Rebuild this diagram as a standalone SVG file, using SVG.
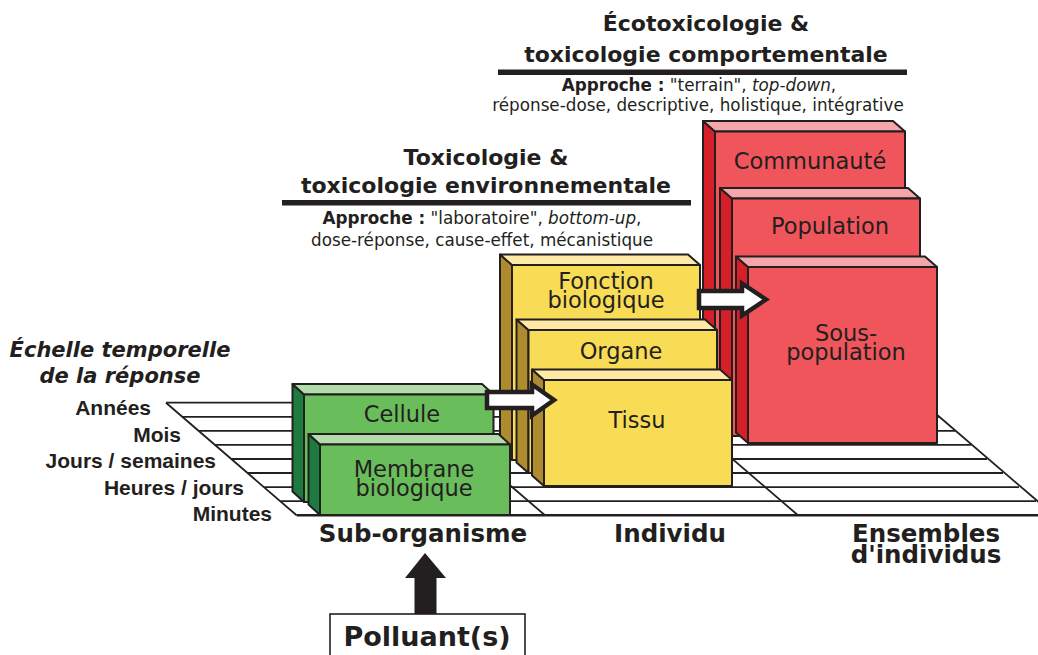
<svg xmlns="http://www.w3.org/2000/svg" width="1038" height="655" viewBox="0 0 1038 655">
<style>
.gl{stroke:#231f20;stroke-width:1.8;fill:none}
.ol{stroke:#231f20;stroke-width:2;stroke-linejoin:round}
.gf{fill:#6abd5b}.gs{fill:#1e7b3f}.gt{fill:#b3dcab}
.yf{fill:#f9dc55}.ys{fill:#ad8b2e}.yt{fill:#feeaa4}
.rf{fill:#ef555b}.rs{fill:#d5202a}.rt{fill:#f5a6aa}
.lbl{font-family:"DejaVu Sans",sans-serif;font-size:22.5px;fill:#231f20;text-anchor:middle}
.hd{font-family:"DejaVu Sans",sans-serif;font-weight:bold;font-size:22px;fill:#231f20;text-anchor:middle}
.ap{font-family:"DejaVu Sans",sans-serif;font-size:16.8px;fill:#231f20;text-anchor:middle}
.ax{font-family:"DejaVu Sans",sans-serif;font-weight:bold;font-size:24.5px;fill:#231f20;text-anchor:middle}
.tm{font-family:"Liberation Sans",Arial,sans-serif;font-weight:bold;font-size:21px;fill:#231f20;text-anchor:end}
.ti{font-family:"DejaVu Sans",sans-serif;font-weight:bold;font-style:italic;font-size:21px;fill:#231f20;text-anchor:middle}
.wa{fill:#ffffff;stroke:#231f20;stroke-width:4.5;stroke-linejoin:miter}
</style>
<rect width="1038" height="655" fill="#ffffff"/>
<g id="grid">
<line class="gl" x1="166" y1="402.7" x2="923" y2="402.7"/>
<line class="gl" x1="182.4" y1="416.8" x2="939" y2="416.8"/>
<line class="gl" x1="198.8" y1="430.9" x2="955" y2="430.9"/>
<line class="gl" x1="215.2" y1="444.9" x2="971" y2="444.9"/>
<line class="gl" x1="231.6" y1="459" x2="987" y2="459"/>
<line class="gl" x1="248" y1="473" x2="1003" y2="473"/>
<line class="gl" x1="264.4" y1="487.2" x2="1019" y2="487.2"/>
<line class="gl" x1="280.8" y1="501.2" x2="1036" y2="501.2"/>
<line class="gl" x1="296.6" y1="515.3" x2="1038" y2="515.3" style="stroke-width:2.6"/>
<line class="gl" x1="166" y1="402.7" x2="296.6" y2="515.3"/>
<line class="gl" x1="414" y1="402.7" x2="545" y2="515.3"/>
<line class="gl" x1="667" y1="402.7" x2="798" y2="515.3"/>
<line class="gl" x1="923" y1="402.7" x2="1054" y2="515.3"/>
</g>
<g id="axis-labels">
<text class="ti" x="120" y="357">Échelle temporelle</text>
<text class="ti" x="120" y="383">de la réponse</text>
<text class="tm" x="151" y="415">Années</text>
<text class="tm" x="181" y="441.5">Mois</text>
<text class="tm" x="216" y="468">Jours / semaines</text>
<text class="tm" x="244" y="494.5">Heures / jours</text>
<text class="tm" x="272" y="521">Minutes</text>
<text class="ax" x="423" y="542">Sub-organisme</text>
<text class="ax" x="670" y="542">Individu</text>
<text class="ax" x="926" y="542">Ensembles</text>
<text class="ax" x="926" y="563">d'individus</text>
</g>
<g id="header-eco">
<text class="hd" x="706" y="31">Écotoxicologie &amp;</text>
<text class="hd" x="706" y="62">toxicologie comportementale</text>
<rect x="498" y="69.5" width="409" height="5.5" fill="#231f20"/>
<text class="ap" x="699" y="91"><tspan font-weight="bold">Approche :</tspan> "terrain", <tspan font-style="italic">top-down</tspan>,</text>
<text class="ap" x="698" y="111">réponse-dose, descriptive, holistique, intégrative</text>
</g>
<g id="header-tox">
<text class="hd" x="486" y="165">Toxicologie &amp;</text>
<text class="hd" x="486" y="193">toxicologie environnementale</text>
<rect x="282" y="200" width="409" height="5.5" fill="#231f20"/>
<text class="ap" x="482" y="224"><tspan font-weight="bold">Approche :</tspan> "laboratoire", <tspan font-style="italic">bottom-up</tspan>,</text>
<text class="ap" x="482" y="246">dose-réponse, cause-effet, mécanistique</text>
</g>
<g id="communaute">
<polygon class="rs ol" points="703,121 715,131.5 715,430 703,419.5"/>
<polygon class="rt ol" points="703,121 893,121 905,131.5 715,131.5"/>
<rect class="rf ol" x="715" y="131.5" width="190" height="298.5"/>
<text class="lbl" x="810" y="169">Communauté</text>
</g>
<g id="population">
<polygon class="rs ol" points="720,188 732,198.5 732,436 720,425.5"/>
<polygon class="rt ol" points="720,188 908,188 920,198.5 732,198.5"/>
<rect class="rf ol" x="732" y="198.5" width="188" height="237.5"/>
<text class="lbl" x="830" y="234">Population</text>
</g>
<g id="sous-population">
<polygon class="rs ol" points="736,256.5 748,267 748,443 736,432.5"/>
<polygon class="rt ol" points="736,256.5 925,256.5 937,267 748,267"/>
<rect class="rf ol" x="748" y="267" width="189" height="176"/>
<text class="lbl" x="846" y="341">Sous-</text>
<text class="lbl" x="846" y="360">population</text>
</g>
<g id="fonction">
<polygon class="ys ol" points="500,254.5 512,265 512,460 500,449.5"/>
<polygon class="yt ol" points="500,254.5 688,254.5 700,265 512,265"/>
<rect class="yf ol" x="512" y="265" width="188" height="195"/>
<text class="lbl" x="606" y="288.5">Fonction</text>
<text class="lbl" x="606" y="307.5">biologique</text>
</g>
<g id="organe">
<polygon class="ys ol" points="516.5,319.5 528.5,330 528.5,473 516.5,462.5"/>
<polygon class="yt ol" points="516.5,319.5 705,319.5 717,330 528.5,330"/>
<rect class="yf ol" x="528.5" y="330" width="188.5" height="143"/>
<text class="lbl" x="621" y="358.5">Organe</text>
</g>
<g id="tissu">
<polygon class="ys ol" points="532,369.5 544,380 544,486 532,475.5"/>
<polygon class="yt ol" points="532,369.5 720,369.5 732,380 544,380"/>
<rect class="yf ol" x="544" y="380" width="188" height="106"/>
<text class="lbl" x="637" y="428">Tissu</text>
</g>
<g id="cellule">
<polygon class="gs ol" points="292.5,384 304,394.5 304,502 292.5,491.5"/>
<polygon class="gt ol" points="292.5,384 482,384 493.5,394.5 304,394.5"/>
<rect class="gf ol" x="304" y="394.5" width="189.5" height="107.5"/>
<text class="lbl" x="402" y="422">Cellule</text>
</g>
<g id="membrane">
<polygon class="gs ol" points="308.5,434 320,444.5 320,515 308.5,504.5"/>
<polygon class="gt ol" points="308.5,434 498.5,434 510,444.5 320,444.5"/>
<rect class="gf ol" x="320" y="444.5" width="190" height="70.5"/>
<text class="lbl" x="414" y="476.5">Membrane</text>
<text class="lbl" x="414" y="495.5">biologique</text>
</g>
<g id="connectors">
<polygon class="wa" points="487,392 532,392 532,384.5 554,400 532,415.5 532,408 487,408"/>
<polygon class="wa" points="699,291 742,291 742,283.5 766,299.5 742,315.5 742,308 699,308"/>
<polygon fill="#231f20" points="425,553 446,578 436.5,578 436.5,614 414.5,614 414.5,578 405,578"/>
</g>
<g id="polluant">
<rect x="330" y="614" width="195" height="50" fill="#ffffff" stroke="#231f20" stroke-width="1.6"/>
<text class="ax" x="427" y="646" style="font-size:27px">Polluant(s)</text>
</g>
</svg>
